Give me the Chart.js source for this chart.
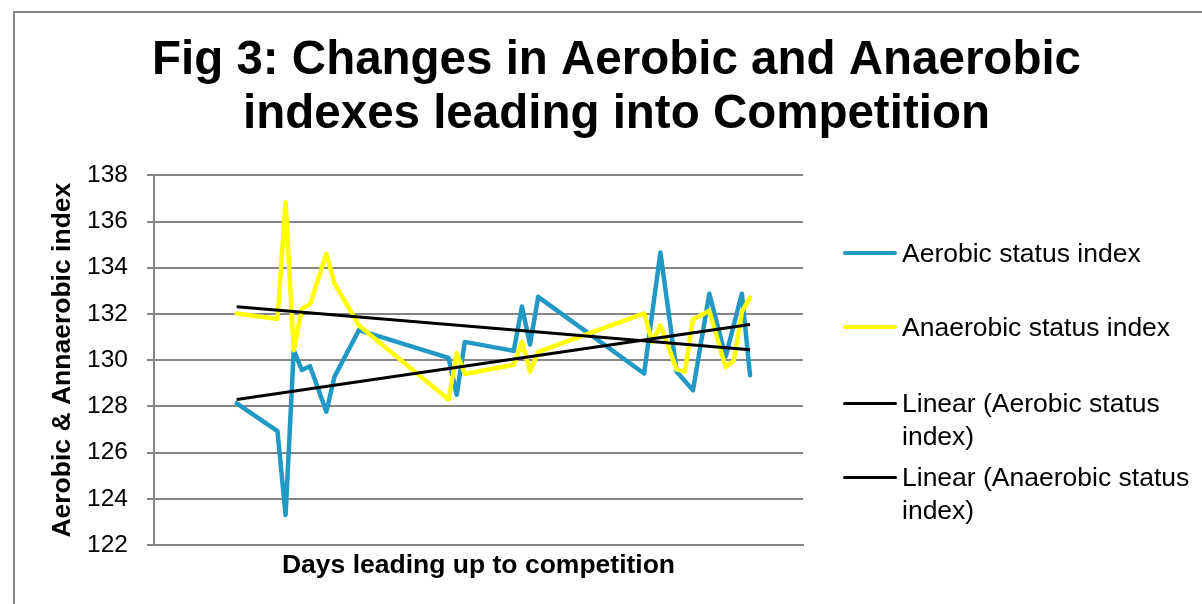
<!DOCTYPE html>
<html>
<head>
<meta charset="utf-8">
<script src="https://cdn.jsdelivr.net/npm/chart.js@4.4.1/dist/chart.umd.min.js"></script>
<style>
body{margin:0;overflow:hidden;background:#fff;font-family:"Liberation Sans",Arial,sans-serif;}
#marco{position:absolute;left:13px;top:11px;width:1300px;height:700px;border-left:2px solid #868686;border-top:2px solid #868686;}
#grafico{position:absolute;left:14px;top:12px;}
.item{position:absolute;left:843px;}
.muestra{position:absolute;left:0;width:54px;border-radius:2px;}
.texto{position:absolute;left:59px;top:0;width:295px;font-size:26.5px;line-height:33px;color:#000;white-space:normal;}
</style>
</head>
<body>
<div id="marco"></div>
<canvas id="grafico" width="1205" height="600"></canvas>
<div id="leyenda"></div>
<script>
// titulo y nombres
var titulo = ["Fig 3: Changes in Aerobic and Anaerobic", "indexes leading into Competition"];
var tituloX = "Days leading up to competition";
var tituloY = "Aerobic & Annaerobic index";
var nombres = ["Aerobic status index", "Anaerobic status index",
  "Linear (Aerobic status index)", "Linear (Anaerobic status index)"];

// dias (eje x sin etiquetas)
var dias = [0, 5, 6, 7, 8, 9, 11, 12, 15, 26, 27, 28, 34, 35, 36, 37,
  50, 51, 52, 54, 55, 56, 58, 60, 61, 62, 63];
// indice aerobico (null = sin quiebre en la linea)
var aerobico = [128.13, 126.93, 123.3, 130.43, 129.57, 129.74, 127.77, 129.28, 131.3, 130.1, 128.5, 130.79, 130.4, 132.32, 130.68, 132.74,
  129.42, null, 134.66, 129.5, null, 128.7, 132.88, 130.15, null, 132.88, 129.35];
// indice anaerobico
var anaerobico = [132.02, 131.78, 136.82, 130.43, 132.23, 132.42, 134.61, 133.32, 131.5, 128.3, 130.3, 129.4, 129.8, 130.79, 129.5, 130.36,
  132.02, 130.78, 131.51, 129.6, 129.5, 131.76, 132.14, 129.7, 129.97, 132.1, 132.71];
// lineas de tendencia (extremos)
var diasTendencia = [0, 63];
var tendenciaAerobico = [128.3, 131.54];
var tendenciaAnaerobico = [132.31, 130.45];

var ticksY = {min: 122, max: 138, paso: 2};

var azul = "#2199C4";
var amarillo = "#FFFF00";
var negro = "#000000";
var gris = "#868686";
var fuente = "'Liberation Sans', Arial, sans-serif";

function puntos(xs, ys){
	var arr = [];
	for (var i = 0; i < xs.length; i++) {
		arr.push({x: xs[i], y: ys[i]});
	}
	return arr;
}

var ctx = document.getElementById("grafico");
var chart = new Chart(ctx, {
	type: "line",
	data: {
		datasets: [{
			label: nombres[0],
			data: puntos(dias, aerobico),
			borderColor: azul,
			backgroundColor: azul,
			borderWidth: 4.5,
			order: 3
		},
		{
			label: nombres[1],
			data: puntos(dias, anaerobico),
			borderColor: amarillo,
			backgroundColor: amarillo,
			borderWidth: 4.5,
			order: 2
		},
		{
			label: nombres[2],
			data: puntos(diasTendencia, tendenciaAerobico),
			borderColor: negro,
			backgroundColor: negro,
			borderWidth: 3,
			borderCapStyle: "butt",
			order: 1
		},
		{
			label: nombres[3],
			data: puntos(diasTendencia, tendenciaAnaerobico),
			borderColor: negro,
			backgroundColor: negro,
			borderWidth: 3,
			borderCapStyle: "butt",
			order: 0
		}]
	},
	options: {
		responsive: false,
		animation: false,
		spanGaps: true,
		elements: {
			point: {radius: 0, hoverRadius: 0},
			line: {tension: 0, borderCapStyle: "round", borderJoinStyle: "round", fill: false}
		},
		layout: {padding: {left: 0, right: 0, top: 0, bottom: 30}},
		plugins: {
			legend: {display: false},
			tooltip: {enabled: false},
			title: {
				display: true,
				text: titulo,
				color: "#000",
				font: {family: fuente, size: 47.5, weight: "bold", lineHeight: 1.14},
				padding: {top: 22, bottom: 33}
			}
		},
		scales: {
			x: {
				type: "linear",
				min: -10.15,
				max: 69.5,
				ticks: {display: false},
				grid: {display: false},
				border: {display: true, color: gris, width: 2},
				title: {
					display: true,
					text: tituloX,
					color: "#000",
					font: {family: fuente, size: 26.5, weight: "bold"},
					padding: {top: 0, bottom: 0}
				},
				afterFit: function(s){ s.height = 37; }
			},
			y: {
				min: ticksY.min,
				max: ticksY.max,
				ticks: {stepSize: ticksY.paso, color: "#000", font: {family: fuente, size: 24.5}, padding: 19},
				grid: {color: gris, lineWidth: 2, tickLength: 7},
				border: {color: gris, width: 2},
				title: {
					display: true,
					text: tituloY,
					color: "#000",
					font: {family: fuente, size: 26.5, weight: "bold"},
					padding: {top: 33, bottom: 0}
				},
				afterFit: function(s){ s.width = 140; }
			},
			// eje vacio: reserva el espacio de la leyenda
			espacio: {
				position: "right",
				display: true,
				ticks: {display: false},
				grid: {display: false, drawTicks: false},
				border: {display: false},
				afterFit: function(s){ s.width = 416; }
			}
		}
	}
});

// leyenda en html (textos de varias lineas)
var topLeyenda = [253, 327, 403, 477];
var leyenda = document.getElementById("leyenda");
chart.data.datasets.forEach(function(ds, i){
	var item = document.createElement("div");
	item.className = "item";
	item.style.top = (topLeyenda[i] - 16) + "px";
	var muestra = document.createElement("div");
	muestra.className = "muestra";
	muestra.style.height = ds.borderWidth + "px";
	muestra.style.top = (16 - ds.borderWidth / 2) + "px";
	muestra.style.background = ds.borderColor;
	var texto = document.createElement("div");
	texto.className = "texto";
	texto.appendChild(document.createTextNode(ds.label));
	item.appendChild(muestra);
	item.appendChild(texto);
	leyenda.appendChild(item);
});
</script>
</body>
</html>
